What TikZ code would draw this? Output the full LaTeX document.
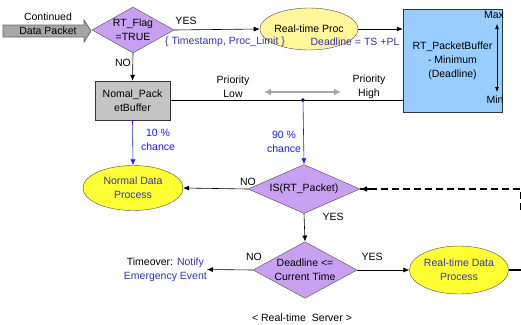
\documentclass[tikz,border=0pt]{standalone}
\usepackage{fontspec}
\setmainfont{Liberation Sans}
\usetikzlibrary{shapes.geometric,arrows.meta}
\definecolor{lav}{HTML}{C8A0F2}
\definecolor{ylw}{HTML}{FFFF33}
\definecolor{pylw}{HTML}{FFF59A}
\definecolor{lblue}{HTML}{99CCFF}
\definecolor{gbox}{HTML}{C4C4C4}
\definecolor{btxt}{HTML}{3333B0}
\definecolor{bline}{HTML}{1A1AFF}
\begin{document}
\begin{tikzpicture}[x=1pt,y=-1pt,
  every node/.style={font=\fontsize{10.5}{14}\selectfont, inner sep=0pt},
  dia/.style={diamond, draw=black!70, fill=lav, aspect=1.75, align=center},
  ell/.style={ellipse, draw=black!70, align=center},
  lbl/.style={align=center},
  arr/.style={-{Latex[length=6pt,width=5pt]}, line width=0.6pt},
  barr/.style={-{Latex[length=6pt,width=5pt]}, line width=0.6pt, draw=bline}]
\useasboundingbox (0,0) rectangle (521,324);

% input arrow
\draw[draw=black!60, fill=black!35, line width=0.8pt]
  (3,25) -- (84,25) -- (84,20) -- (91,31) -- (84,42) -- (84,37) -- (3,37) -- cycle;
\coordinate (in) at (91,31);
\node[lbl] (inlab) at (48,23.5) {Continued\\Data Packet};

% nodes
\node[dia, minimum width=82pt, minimum height=46pt] (flag) at (133,30) {RT\_Flag\\=TRUE};
\node[ell, fill=pylw, minimum width=95pt, minimum height=42pt] (rtp) at (309,29) {Real-time Proc};
\node[draw=black!80, fill=lblue, minimum width=99pt, minimum height=103pt, align=center] (rtb) at (452.5,60.5) {RT\_PacketBuffer\\- Minimum\\(Deadline)};
\node[draw=black!80, fill=gbox, minimum width=75pt, minimum height=39pt, align=center] (nb) at (132.5,100.5) {Nomal\_Pack\\etBuffer};
\node[ell, fill=ylw, minimum width=100pt, minimum height=45pt, text=btxt] (ndp) at (133,188) {Normal Data\\Process};
\node[dia, minimum width=112pt, minimum height=45pt] (is) at (304,189) {IS(RT\_Packet)};
\node[dia, minimum width=104pt, minimum height=50pt] (dl) at (305,270) {Deadline <=\\Current Time};
\node[ell, fill=ylw, minimum width=98pt, minimum height=48pt, text=btxt] (rdp) at (459,270) {Real-time Data\\Process};
\node[lbl, anchor=east] (tmo) at (207,269.5) {Timeover: \textcolor{btxt}{Notify}\\\textcolor{btxt}{Emergency Event}};
\node[lbl] (srv) at (302,318) {< Real-time\ \ Server >};

% labels
\node (yes1) at (186,21) {YES};
\node (no1) at (123,63) {NO};
\node[text=btxt] (tsl) at (225,42) {\{ Timestamp, Proc\_Limit \}};
\node[text=btxt] (dtl) at (355,42) {Deadline = TS +PL};
\node (max) at (494,15) {Max};
\node (min) at (495,100) {Min};
\node[lbl] (plow) at (233,87) {Priority\\Low};
\node[lbl] (phigh) at (369,87) {Priority\\High};
\node[lbl, text=bline] (p10) at (158,140) {10 \%\\chance};
\node[lbl, text=bline] (p90) at (284,142) {90 \%\\chance};
\node (no2) at (248,182) {NO};
\node (yes2) at (333,217) {YES};
\node (no3) at (254,257) {NO};
\node (yes3) at (372,257) {YES};

% helper coordinates
\coordinate (dot) at (303,100);
\coordinate (gl) at (264,92);
\coordinate (gr) at (341,92);
\coordinate (mx1) at (497,24);
\coordinate (mx2) at (497,92);
\coordinate (redge) at (521,270);
\coordinate (dedge) at (521,189);
\coordinate (dedge2) at (521,210);

% connectors
\draw[arr] (flag.east) -- (rtp.west);
\draw[arr] (rtp.east) -- (rtb.west |- rtp.east);
\draw[arr] (flag.south) -- (nb.north);
\draw[line width=0.6pt] (nb.east) -- (rtb.west |- nb.east);
\draw[black!35, line width=1.3pt, {Latex[length=7pt,width=7pt]}-{Latex[length=7pt,width=7pt]}] (gl) -- (gr);
\fill (dot) circle (1.8pt);
\draw[barr] (dot) -- (is.north);
\draw[barr] (nb.south) -- (ndp.north);
\draw[arr] (is.west) -- (ndp.east);
\draw[arr] (is.south) -- (dl.north);
\draw[arr] (dl.west) -- (tmo.east);
\draw[arr] (dl.east) -- (rdp.west);
\draw[line width=1.4pt] (rdp.east) -- (redge);
\draw[{Latex[length=5pt,width=4pt]}-{Latex[length=5pt,width=4pt]}, line width=0.6pt] (mx1) -- (mx2);
\draw[line width=1.4pt, dash pattern=on 7pt off 4pt] (dedge2) -- (dedge) -- (is.east);
\draw[-{Latex[length=7pt,width=6pt]}, line width=1.2pt] ([xshift=10pt]is.east) -- (is.east);
\end{tikzpicture}
\end{document}
